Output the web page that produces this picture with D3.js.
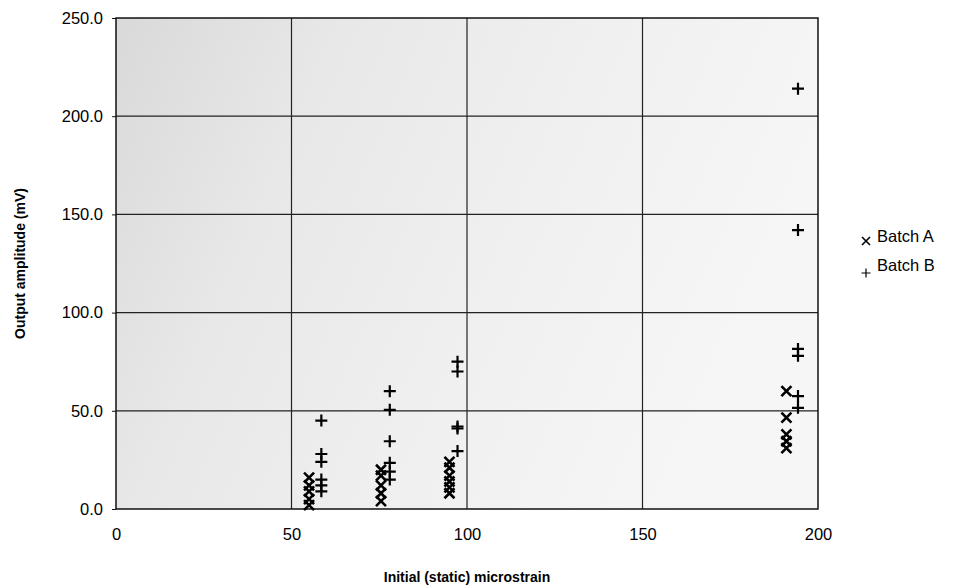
<!DOCTYPE html>
<html>
<head>
<meta charset="utf-8">
<script src="https://cdn.jsdelivr.net/npm/d3@7"></script>
<style>
  body { margin: 0; background: #fff; }
  text { font-family: "Liberation Sans", Arial, sans-serif; }
</style>
</head>
<body>
<div id="mainDiv"></div>
<script>

// data
var batchAx = [55, 55, 55, 55, 55,
               75.5, 75.5, 75.5, 75.5, 75.5,
               95, 95, 95, 95, 95, 95,
               191, 191, 191, 191, 191];
var batchAy = [16, 12, 9, 5, 2,
               20, 17, 12, 8, 4,
               24, 21, 17, 14, 11, 8,
               60, 46.5, 38, 34.5, 31];

var batchBx = [58.5, 58.5, 58.5, 58.5, 58.5, 58.5,
               78, 78, 78, 78, 78, 78,
               97.3, 97.3, 97.3, 97.3, 97.3,
               194.3, 194.3, 194.3, 194.3, 194.3, 194.3];
var batchBy = [45, 28, 24, 15, 12, 9,
               60, 50.5, 34.5, 23.5, 19, 15,
               75, 70, 42, 41, 29.5,
               214, 142, 81.5, 78, 57.5, 51.5];

var xTicks = [0, 50, 100, 150, 200];
var yTicks = [0, 50, 100, 150, 200, 250];
var seriesNames = ["Batch A", "Batch B"];

var width = 980, height = 586;
var plotLeft = 116, plotRight = 818, plotTop = 18, plotBottom = 509;

var svg = d3.select("#mainDiv").append("svg")
    .attr("width", width).attr("height", height);

var xScale = d3.scaleLinear().domain([0, 200]).range([plotLeft, plotRight]);
var yScale = d3.scaleLinear().domain([0, 250]).range([plotBottom, plotTop]);

// stippled grey backdrop, darker on the left
var defs = svg.append("defs");
var grad = defs.append("linearGradient").attr("id", "bgGrad")
    .attr("x1", "0").attr("y1", "0").attr("x2", "1").attr("y2", "0.3");
grad.append("stop").attr("offset", "0").attr("stop-color", "#d9d9d9");
grad.append("stop").attr("offset", "0.3").attr("stop-color", "#e8e8e8");
grad.append("stop").attr("offset", "0.65").attr("stop-color", "#f0f0f0");
grad.append("stop").attr("offset", "1").attr("stop-color", "#f6f6f6");

svg.append("rect")
    .attr("x", plotLeft).attr("y", plotTop)
    .attr("width", plotRight - plotLeft).attr("height", plotBottom - plotTop)
    .attr("fill", "url(#bgGrad)");

// gridlines
svg.append("g").selectAll("line").data(xTicks.slice(1, -1)).join("line")
    .attr("x1", function (d) { return xScale(d); }).attr("x2", function (d) { return xScale(d); })
    .attr("y1", plotTop).attr("y2", plotBottom)
    .attr("stroke", "#222").attr("stroke-width", 1.2);

svg.append("g").selectAll("line").data(yTicks.slice(1, -1)).join("line")
    .attr("x1", plotLeft).attr("x2", plotRight)
    .attr("y1", function (d) { return yScale(d); }).attr("y2", function (d) { return yScale(d); })
    .attr("stroke", "#222").attr("stroke-width", 1.2);

// plot border
svg.append("rect")
    .attr("x", plotLeft).attr("y", plotTop)
    .attr("width", plotRight - plotLeft).attr("height", plotBottom - plotTop)
    .attr("fill", "none").attr("stroke", "#111").attr("stroke-width", 1.5);

// axes
var xAxis = svg.append("g").attr("transform", "translate(0," + plotBottom + ")")
    .call(d3.axisBottom(xScale).tickValues(xTicks).tickSize(0).tickPadding(19)
        .tickFormat(d3.format("d")));
var yAxis = svg.append("g").attr("transform", "translate(" + plotLeft + ",0)")
    .call(d3.axisLeft(yScale).tickValues(yTicks).tickSize(4).tickPadding(9)
        .tickFormat(d3.format(".1f")));

[xAxis, yAxis].forEach(function (ax) {
    ax.select(".domain").remove();
    ax.selectAll("text").attr("font-size", 16.5).attr("fill", "#000")
        .attr("font-family", "'Liberation Sans', Arial, sans-serif");
    ax.selectAll("line").attr("stroke", "#111");
});

// axis titles
svg.append("text")
    .attr("x", (plotLeft + plotRight) / 2).attr("y", 582)
    .attr("text-anchor", "middle").attr("font-size", 14).attr("font-weight", "bold")
    .text("Initial (static) microstrain");

svg.append("text")
    .attr("transform", "translate(25," + (plotTop + plotBottom) / 2 + ") rotate(-90)")
    .attr("text-anchor", "middle").attr("font-size", 14).attr("font-weight", "bold")
    .text("Output amplitude (mV)");

// marker shapes
function timesPath(x, y) {
    var r = 5;
    return "M" + (x - r) + "," + (y - r) + "L" + (x + r) + "," + (y + r) +
           "M" + (x - r) + "," + (y + r) + "L" + (x + r) + "," + (y - r);
}
function plusPath(x, y) {
    var r = 6;
    return "M" + (x - r) + "," + y + "L" + (x + r) + "," + y +
           "M" + x + "," + (y - r) + "L" + x + "," + (y + r);
}

var pointsA = batchAx.map(function (d, i) { return [d, batchAy[i]]; });
var pointsB = batchBx.map(function (d, i) { return [d, batchBy[i]]; });

svg.append("g").selectAll("path").data(pointsA).join("path")
    .attr("d", function (d) { return timesPath(xScale(d[0]), yScale(d[1])); })
    .attr("stroke", "#000").attr("stroke-width", 2.6).attr("fill", "none");

svg.append("g").selectAll("path").data(pointsB).join("path")
    .attr("d", function (d) { return plusPath(xScale(d[0]), yScale(d[1])); })
    .attr("stroke", "#000").attr("stroke-width", 2.2).attr("fill", "none");

// legend
var legend = svg.append("g");
legend.append("path").attr("d", timesPath(866, 241))
    .attr("stroke", "#000").attr("stroke-width", 2).attr("fill", "none")
    .attr("transform", "translate(866,241) scale(0.8) translate(-866,-241)");
legend.append("path").attr("d", plusPath(866, 273))
    .attr("stroke", "#000").attr("stroke-width", 1.6).attr("fill", "none")
    .attr("transform", "translate(866,273) scale(0.75) translate(-866,-273)");
legend.selectAll("text").data(seriesNames).join("text")
    .attr("x", 877).attr("y", function (d, i) { return 242 + i * 29; })
    .attr("font-size", 16.5).text(function (d) { return d; });

</script>
</body>
</html>
